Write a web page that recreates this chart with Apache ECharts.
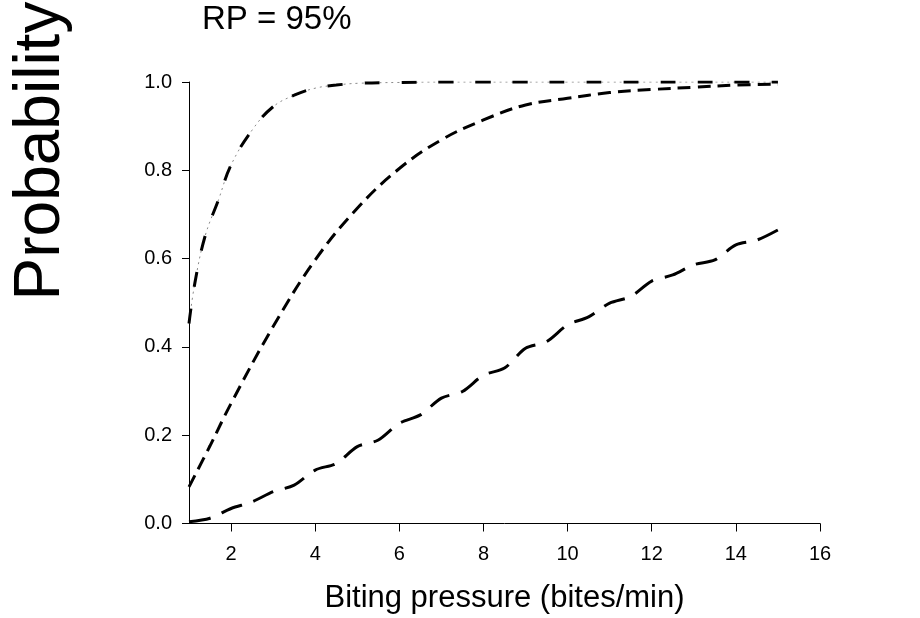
<!DOCTYPE html>
<html>
<head>
<meta charset="utf-8">
<script src="https://cdn.jsdelivr.net/npm/echarts@6/dist/echarts.min.js"></script>
<style>
html,body{margin:0;padding:0;background:#fff;}
#chart{width:920px;height:618px;}
</style>
</head>
<body>
<div id="chart"></div>
<script>
// Top curve
const xTop = [1, 1.14, 1.38, 1.7, 2, 2.5, 3, 3.5, 4, 4.5, 5, 6, 7, 8, 9, 10, 11, 12, 13, 14, 15];
const yTop = [0.453, 0.545, 0.65, 0.733, 0.812, 0.891, 0.944, 0.970, 0.986, 0.993, 0.997, 0.999, 1, 1, 1, 1, 1, 1, 1, 1, 1];
// Middle curve
const xMid = [1, 1.5, 2, 3, 4, 5, 6, 7, 8, 9, 10, 11, 12, 13, 14, 15];
const yMid = [0.083, 0.176, 0.272, 0.446, 0.597, 0.714, 0.804, 0.869, 0.914, 0.948, 0.963, 0.976, 0.983, 0.988, 0.993, 0.995];
// Bottom curve
const xLow = [1, 1.5, 2, 2.5, 3, 3.5, 4, 4.5, 5, 5.5, 6, 6.5, 7, 7.5, 8, 8.5, 9, 9.5, 10, 10.5, 11, 11.5, 12, 12.5, 13, 13.5, 14, 14.5, 15];
const yLow = [0.004, 0.012, 0.034, 0.049, 0.072, 0.087, 0.121, 0.136, 0.174, 0.189, 0.227, 0.246, 0.284, 0.299, 0.336, 0.352, 0.397, 0.412, 0.450, 0.468, 0.499, 0.514, 0.549, 0.563, 0.586, 0.597, 0.631, 0.642, 0.665];
// Tick labels
const xTicks = [2, 4, 6, 8, 10, 12, 14, 16];
const yTicks = ['0.0', '0.2', '0.4', '0.6', '0.8', '1.0'];
const titleText = 'RP = 95%';
const xName = 'Biting pressure (bites/min)';
const yName = 'Probability';

const pairs = (xs, ys) => xs.map((x, i) => [x, ys[i]]);
const FONT = 'Liberation Sans, Arial, Helvetica, sans-serif';

const chart = echarts.init(document.getElementById('chart'), null, {renderer: 'canvas'});
chart.setOption({
  animation: false,
  backgroundColor: '#fff',
  grid: {left: 189, right: 100, top: 82, bottom: 94.5, containLabel: false, outerBoundsMode: 'none'},
  graphic: [
    {type: 'text', left: 202, top: 3, style: {text: titleText, fontSize: 33, fontFamily: FONT, fill: '#000'}},
    {type: 'text', x: 41, y: 151, rotation: Math.PI / 2,
     style: {text: yName, fontSize: 64, fontFamily: FONT, fill: '#000', align: 'center', verticalAlign: 'middle'}}
  ],
  xAxis: {
    type: 'value', min: 1, max: 16,
    name: xName, nameLocation: 'middle', nameGap: 59,
    nameTextStyle: {fontSize: 31, fontFamily: FONT, color: '#000'},
    axisLine: {show: true, onZero: false, lineStyle: {color: '#000', width: 1}},
    axisTick: {show: true, length: 8, customValues: xTicks, lineStyle: {color: '#000'}},
    axisLabel: {customValues: xTicks, fontSize: 20, fontFamily: FONT, color: '#000', margin: 21},
    splitLine: {show: false}
  },
  yAxis: {
    type: 'value', min: 0, max: 1, interval: 0.2,
    axisLine: {show: true, onZero: false, lineStyle: {color: '#000', width: 1}},
    axisTick: {show: true, length: 7, lineStyle: {color: '#000'}},
    axisLabel: {fontSize: 20, fontFamily: FONT, color: '#000', margin: 17,
      formatter: v => yTicks[Math.round(v / 0.2)]},
    splitLine: {show: false}
  },
  series: [
    {type: 'line', data: pairs(xTop, yTop), smooth: 0.4, symbol: 'none', silent: true,
     lineStyle: {color: '#8a8a8a', width: 1, type: [2, 4]}},
    {type: 'line', data: pairs(xTop, yTop), smooth: 0.4, symbol: 'none', silent: true,
     lineStyle: {color: '#000', width: 3, type: [15, 22]}},
    {type: 'line', data: pairs(xMid, yMid), smooth: 0.4, symbol: 'none', silent: true,
     lineStyle: {color: '#000', width: 3, type: [13, 7]}},
    {type: 'line', data: pairs(xLow, yLow), smooth: 0.3, symbol: 'none', silent: true,
     lineStyle: {color: '#000', width: 3, type: [22, 12]}}
  ]
});
</script>
</body>
</html>
